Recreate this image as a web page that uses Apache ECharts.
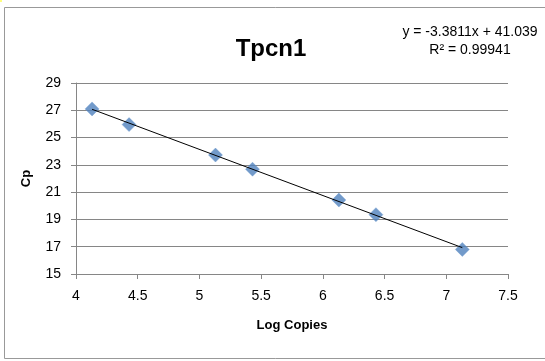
<!DOCTYPE html>
<html>
<head>
<meta charset="utf-8">
<script src="https://cdn.jsdelivr.net/npm/echarts@6/dist/echarts.min.js"></script>
<style>
  html, body { margin: 0; padding: 0; background: #fff; }
  #chart { width: 545px; height: 361px; }
</style>
</head>
<body>
<div id="chart"></div>
<script>
const logCopies = [4.13, 4.43, 5.13, 5.43, 6.13, 6.43, 7.13]
const cpValues = [27.1, 25.95, 23.72, 22.68, 20.42, 19.35, 16.8]
const slope = -3.3811
const intercept = 41.039
const rSquared = '0.99941'

const font = 'Liberation Sans'
const points = logCopies.map((x, i) => [x, cpValues[i]])
const xFirst = logCopies[0]
const xLast = logCopies[logCopies.length - 1]
const trend = [[xFirst, slope * xFirst + intercept], [xLast, slope * xLast + intercept]]

const myChart = echarts.init(document.getElementById('chart'))
myChart.setOption({
    animation: false,
    textStyle: { fontFamily: font },
    title: {
        text: 'Tpcn1',
        left: 266,
        top: 32,
        textAlign: 'center',
        textStyle: { fontSize: 24, fontWeight: 'bold', color: '#000', fontFamily: font }
    },
    graphic: [
        {
            type: 'rect',
            shape: { x: 4.5, y: 7.5, width: 560, height: 351 },
            style: { fill: 'none', stroke: '#999', lineWidth: 1 }
        },
        {
            type: 'rect',
            shape: { x: 0, y: 0, width: 2, height: 2 },
            style: { fill: '#ffff80' }
        },
        {
            type: 'text',
            x: 470,
            y: 32,
            style: { text: 'y = -3.3811x + 41.039', fontSize: 14, fill: '#000', fontFamily: font, align: 'center', verticalAlign: 'middle' }
        },
        {
            type: 'text',
            x: 470,
            y: 50,
            style: { text: 'R² = ' + rSquared, fontSize: 14, fill: '#000', fontFamily: font, align: 'center', verticalAlign: 'middle' }
        }
    ],
    grid: { left: 76, right: 37, top: 83, bottom: 87 },
    xAxis: {
        type: 'value',
        min: 4,
        max: 7.5,
        interval: 0.5,
        name: 'Log Copies',
        nameLocation: 'middle',
        nameGap: 45,
        nameTextStyle: { fontSize: 13, fontWeight: 'bold', color: '#000' },
        splitLine: { show: false },
        axisLine: { show: true, lineStyle: { color: '#868686' } },
        axisTick: { show: true, length: 5, lineStyle: { color: '#868686' } },
        axisLabel: { color: '#000', fontSize: 14, margin: 15 }
    },
    yAxis: {
        type: 'value',
        min: 15,
        max: 29,
        interval: 2,
        name: 'Cp',
        nameLocation: 'middle',
        nameGap: 43,
        nameRotate: 90,
        nameTextStyle: { fontSize: 13, fontWeight: 'bold', color: '#000' },
        splitLine: { show: true, lineStyle: { color: '#868686' } },
        axisLine: { show: true, lineStyle: { color: '#868686' } },
        axisTick: { show: true, length: 5, lineStyle: { color: '#868686' } },
        axisLabel: { color: '#000', fontSize: 14, margin: 15 }
    },
    series: [
        {
            type: 'line',
            data: trend,
            symbol: 'none',
            lineStyle: { color: '#000', width: 1 },
            z: 3
        },
        {
            type: 'scatter',
            data: points,
            symbol: 'diamond',
            symbolSize: 14,
            itemStyle: { color: '#4F81BD', borderColor: '#6f9bd0', borderWidth: 0.5 },
            z: 2
        }
    ]
})
</script>
</body>
</html>
